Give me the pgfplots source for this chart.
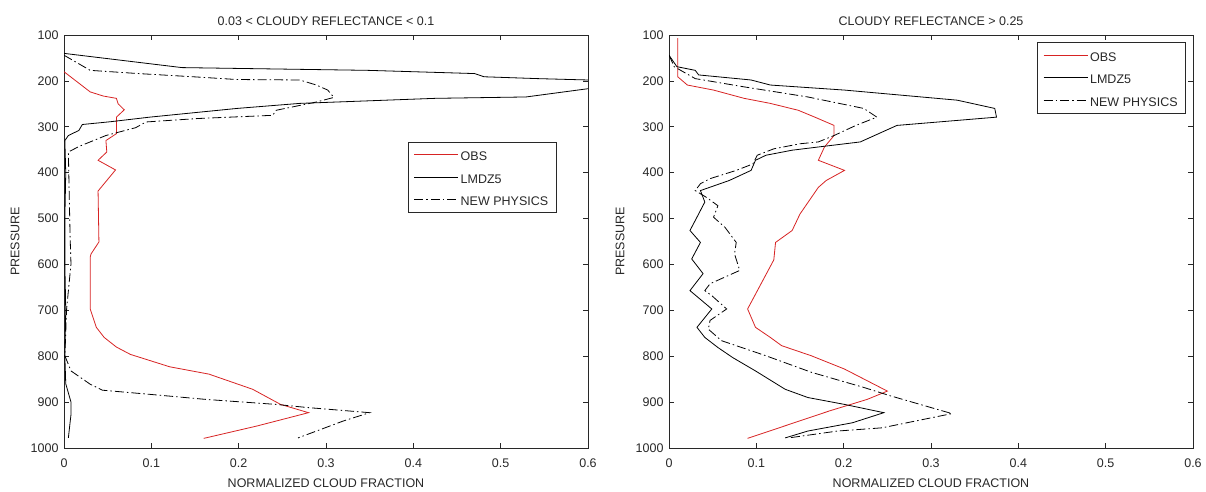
\documentclass[border=0pt]{standalone}
\usepackage{pgfplots}
\pgfplotsset{compat=1.18}
\usepackage{fontspec}
\setmainfont{Liberation Sans}
\definecolor{obsred}{RGB}{215,35,35}
\definecolor{axgray}{RGB}{40,40,40}
\pgfplotsset{
  matlab/.style={
    scale only axis, width=524pt, height=413pt,
    xmin=0, xmax=0.6, ymin=100, ymax=1000, y dir=reverse,
    xtick={0,0.1,...,0.6}, ytick={100,200,...,1000},
    xticklabels={0,0.1,0.2,0.3,0.4,0.5,0.6},
    yticklabels={100,200,300,400,500,600,700,800,900,1000},
    tick align=inside, xtick pos=both, ytick pos=both,
    major tick length=5pt,
    axis line style={axgray, line width=0.7pt},
    every tick/.style={axgray, line width=0.7pt},
    /pgf/number format/assume math mode=true,
    tick label style={font=\fontsize{12.5}{14}\selectfont, text=axgray},
    xticklabel style={yshift=-7pt},
    yticklabel style={xshift=-2pt},
    label style={font=\fontsize{12.5}{14}\selectfont, text=axgray},
    title style={font=\fontsize{12.5}{14}\selectfont, text=axgray, at={(axis description cs:0.5,1)}, anchor=center, yshift=8pt},
    xlabel={NORMALIZED CLOUD FRACTION},
    ylabel={PRESSURE},
    xlabel style={at={(axis description cs:0.5,0)}, anchor=center, yshift=-35pt},
    ylabel style={at={(axis description cs:0,0.5)}, anchor=center, yshift=49pt},
    legend cell align=left,
    legend image code/.code={\draw[#1] (0pt,0pt) -- (44pt,0pt);},
    legend style={draw=axgray, line width=0.7pt, font=\fontsize{12.5}{14}\selectfont, text=axgray,
      inner xsep=6pt, inner ysep=2pt, row sep=1pt,
      nodes={inner sep=2pt, text height=15pt, text depth=2.5pt}},
  },
  obs/.style={obsred, line width=0.8pt},
  lmdz/.style={black, line width=0.8pt},
  newp/.style={black, line width=0.8pt, dash pattern=on 9pt off 3pt on 1.5pt off 3pt},
}
\begin{document}
\begin{tikzpicture}
\path[use as bounding box] (0pt,0pt) rectangle (1206pt,491pt);
\begin{axis}[matlab, at={(64pt,43pt)}, anchor=south west,
  title={0.03 < CLOUDY REFLECTANCE < 0.1},
  legend style={at={(axis description cs:0.940,0.742)}, anchor=north east}]
\addplot[obs] coordinates {(0,180) (0.030,224) (0.045,233) (0.060,238) (0.062,250) (0.069,263) (0.060,279) (0.060,315) (0.048,330) (0.049,355) (0.039,373) (0.059,394) (0.039,440) (0.040,551) (0.031,577) (0.030,584) (0.030,697) (0.037,737) (0.046,759) (0.060,780) (0.076,796) (0.121,823) (0.166,839) (0.216,872) (0.248,905) (0.280,923) (0.221,952) (0.160,979)};
\addlegendentry{OBS}
\addplot[lmdz] coordinates {(0,140) (0.135,171) (0.348,177) (0.47,184) (0.481,191) (0.542,195) (0.6,198) (0.70,205) (0.70,212) (0.6,217) (0.529,235) (0.425,238) (0.27,249) (0.198,260) (0.098,279) (0.053,289) (0.021,295) (0.017,308) (0.005,319) (0.001,330) (0.002,400) (0.001,500) (0.001,600) (0.002,700) (0.001,800) (0.002,860) (0.008,900) (0.008,927) (0.005,978)};
\addlegendentry{LMDZ5}
\addplot[newp] coordinates {(0,144) (0.030,177) (0.085,184) (0.148,191) (0.198,197) (0.27,198) (0.289,209) (0.302,220) (0.309,236) (0.289,246) (0.243,264) (0.239,275) (0.153,282) (0.094,289.5) (0.082,302) (0.048,319) (0.017,343) (0.005,355) (0.006,450) (0.007,540) (0.008,599) (0.003,697) (0.001,799) (0.008,832) (0.030,861) (0.044,874) (0.098,883) (0.162,894) (0.243,905) (0.28,912) (0.35,923) (0.32,941) (0.268,978)};
\addlegendentry{NEW PHYSICS}
\end{axis}
\begin{axis}[matlab, at={(669pt,43pt)}, anchor=south west,
  title={CLOUDY REFLECTANCE > 0.25},
  legend style={at={(axis description cs:0.9866,0.983)}, anchor=north east}]
\addplot[obs] coordinates {(0.010,107) (0.010,191) (0.021,209) (0.051,220) (0.086,238) (0.116,249) (0.148,264) (0.167,279) (0.189,297) (0.189,319) (0.178,344) (0.171,373) (0.201,395) (0.180,417) (0.171,432) (0.150,490) (0.141,526) (0.122,552) (0.120,590) (0.090,697) (0.099,737) (0.116,759) (0.129,777) (0.163,799) (0.201,828) (0.250,876) (0.227,894) (0.184,919) (0.090,979)};
\addlegendentry{OBS}
\addplot[lmdz] coordinates {(0,144) (0.009,169) (0.030,177) (0.034,187) (0.094,198) (0.116,209) (0.201,220) (0.33,242) (0.373,260) (0.375,279) (0.261,297) (0.219,333) (0.171,344) (0.141,351) (0.111,362) (0.099,373) (0.094,395) (0.069,417) (0.036,439) (0.041,464) (0.032,497) (0.024,526) (0.036,552) (0.026,588) (0.039,620) (0.024,657) (0.049,697) (0.032,737) (0.041,759) (0.056,781) (0.073,803) (0.099,832) (0.133,872) (0.159,890) (0.201,905) (0.246,923) (0.21,945) (0.159,963) (0.133,978)};
\addlegendentry{LMDZ5}
\addplot[newp] coordinates {(0,144) (0.006,169) (0.030,195) (0.086,213) (0.159,235) (0.223,260) (0.238,279) (0.214,297) (0.189,319) (0.171,333) (0.150,337) (0.120,348) (0.101,362) (0.096,381) (0.077,395) (0.047,413) (0.036,424) (0.030,439) (0.043,454) (0.056,472) (0.051,497) (0.064,519) (0.077,552) (0.075,577) (0.081,613) (0.047,642) (0.041,657) (0.049,668) (0.066,697) (0.047,722) (0.045,741) (0.060,766) (0.111,799) (0.163,835) (0.223,868) (0.253,886) (0.313,919) (0.324,925) (0.244,956) (0.193,963) (0.137,978)};
\addlegendentry{NEW PHYSICS}
\end{axis}
\end{tikzpicture}
\end{document}
